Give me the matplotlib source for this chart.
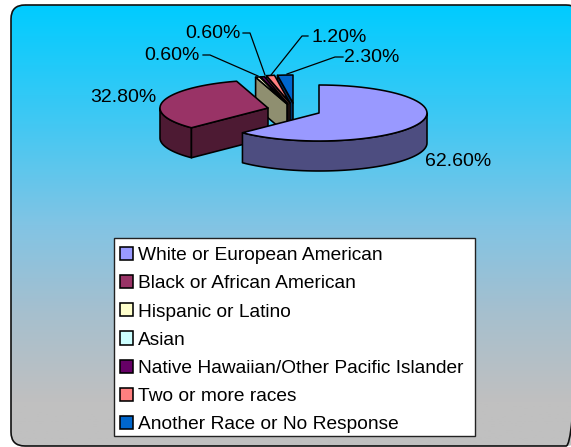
import numpy as np
import matplotlib
matplotlib.use('Agg')
import matplotlib.pyplot as plt
from matplotlib.colors import LinearSegmentedColormap
from matplotlib.patches import FancyBboxPatch, Patch, Polygon, Rectangle

plt.rcParams['font.family'] = ['Liberation Sans', 'DejaVu Sans']

# Shares of each group, in percent
categories = ['White or European American', 'Black or African American', 'Hispanic or Latino',
              'Asian', 'Native Hawaiian/Other Pacific Islander', 'Two or more races',
              'Another Race or No Response']
shares = [62.6, 32.8, 0.6, 0.0, 0.6, 1.2, 2.3]
labels = ['62.60%', '32.80%', '0.60%', '', '0.60%', '1.20%', '2.30%']
top_colors = ['#9999FF', '#993366', '#FFFFCC', '#CCFFFF', '#660066', '#FF8080', '#0066CC']
side_colors = ['#4D4D80', '#4D1A33', '#8F8F70', '#668080', '#330033', '#804040', '#003366']

# Pie geometry in pixels
centers = [(319, 113), (268, 108), (287, 104), (287, 104), (288, 104), (290, 103), (293, 103)]
rx, ry, depth = 108, 28, 30
edge = 1.15


def rim(c, a0, a1, n=60):
    # a0, a1 in degrees clockwise from twelve o'clock
    t = np.radians(np.linspace(a0, a1, n))
    return np.column_stack([c[0] + rx * np.sin(t), c[1] - ry * np.cos(t)])


fig = plt.figure(figsize=(5.71, 4.47), dpi=100)
ax = fig.add_axes([0, 0, 1, 1])
ax.axis('off')

# Rounded frame with vertical gradient, it runs past the right edge of the picture
frame = FancyBboxPatch((11, 5), 569, 441, boxstyle='round,pad=0,rounding_size=14',
                       facecolor='none', edgecolor='#111111', linewidth=1.2, zorder=1)
ax.add_patch(frame)
grad = LinearSegmentedColormap.from_list('bg', [(0, '#00CCFF'), (0.27, '#42C8F3'), (0.5, '#82C4E4'),
                                                (0.7, '#A6BFCE'), (0.9, '#C0C0C0'), (1, '#C0C0C0')])
img = ax.imshow(np.linspace(0, 1, 256).reshape(-1, 1), cmap=grad, aspect='auto',
                extent=(11, 580, 446, 5), zorder=0)
img.set_clip_path(frame)
ax.set_xlim(0, 571)
ax.set_ylim(447, 0)

# Slice angles from the shares, clockwise from twelve o'clock
ends = np.cumsum(shares) / sum(shares) * 360
starts = np.concatenate([[0], ends[:-1]])

# Back slices first, then the two big ones on top
order = [6, 5, 4, 2, 1, 0]
for z, i in enumerate(order):
    c = centers[i]
    a0, a1 = starts[i], ends[i]
    arc = rim(c, a0, a1)
    style = dict(edgecolor='black', linewidth=edge, joinstyle='round', zorder=3 + z)
    # outer wall, only the part that faces the viewer
    lo, hi = max(a0, 90), min(a1, 270)
    if lo < hi:
        front = rim(c, lo, hi)
        wall = np.vstack([front, front[::-1] + [0, depth]])
        ax.add_patch(Polygon(wall, facecolor=side_colors[i], **style))
    # cut face on the start side, the white slice hides its own
    if i != 0:
        p = arc[0]
        face = [c, p, p + [0, depth], (c[0], c[1] + depth)]
        ax.add_patch(Polygon(face, facecolor=side_colors[i], **style))
    ax.add_patch(Polygon(np.vstack([[c], arc]), facecolor=top_colors[i], **style))

# Data labels
label_pos = [(458, 161), (123, 97), (172, 55), None, (213, 33), (339, 37), (372, 58)]
for lab, pos in zip(labels, label_pos):
    if pos is not None:
        ax.text(pos[0], pos[1], lab, fontsize=14, ha='center', va='center', color='black', zorder=20)

# Leader lines
for xs, ys in [([243, 250, 265], [33, 33, 75]),
               ([203, 210, 258], [55, 55, 76]),
               ([308, 302, 271], [36, 36, 75]),
               ([343, 335, 287], [57, 57, 74])]:
    ax.plot(xs, ys, color='black', linewidth=0.9, zorder=2)

# Legend, the box is drawn apart so the rows can sit lower inside it
ax.add_patch(Rectangle((114, 238), 361, 198, facecolor='white', edgecolor='#222222',
                       linewidth=1.0, zorder=19))
handles = [Patch(facecolor=col, edgecolor='black', linewidth=1.15) for col in top_colors]
leg = ax.legend(handles, categories, loc='upper left', bbox_to_anchor=(114 / 571, 1 - 241 / 447),
                bbox_transform=ax.transAxes, fontsize=13.8, frameon=False, borderaxespad=0,
                borderpad=0.3, labelspacing=0.57, handlelength=0.68, handleheight=0.68,
                handletextpad=0.26)
leg.set_zorder(20)

fig.savefig('out.png', dpi=100)
